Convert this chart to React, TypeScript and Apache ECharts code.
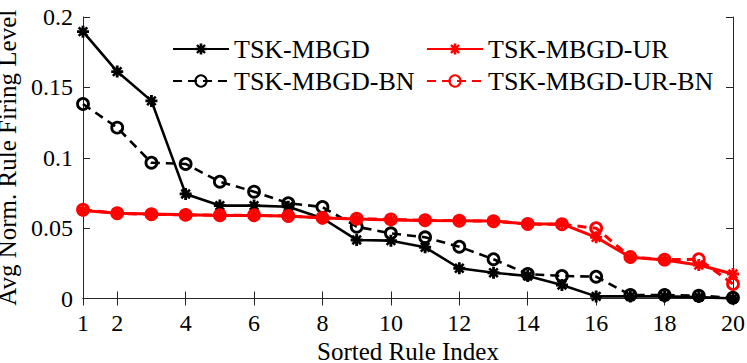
import React, { useEffect, useRef } from "react";
import * as echarts from "echarts";

const ruleIndex = [1, 2, 3, 4, 5, 6, 7, 8, 9, 10, 11, 12, 13, 14, 15, 16, 17, 18, 19, 20];
const xTickValues = [1, 2, 4, 6, 8, 10, 12, 14, 16, 18, 20];

const mbgd = [0.1896, 0.1612, 0.1404, 0.0743, 0.066, 0.066, 0.0652, 0.057, 0.0416, 0.0411, 0.0364, 0.0215, 0.0183, 0.016, 0.0096, 0.0015, 0.0015, 0.0015, 0.001, 0.0];
const mbgdBN = [0.1382, 0.1214, 0.0965, 0.0956, 0.083, 0.0759, 0.0677, 0.065, 0.051, 0.0463, 0.0435, 0.0368, 0.0279, 0.0174, 0.016, 0.0155, 0.0025, 0.0025, 0.002, 0.0005];
const mbgdUR = [0.0625, 0.0605, 0.06, 0.0595, 0.059, 0.059, 0.0587, 0.0572, 0.0565, 0.0558, 0.0555, 0.0553, 0.0551, 0.053, 0.053, 0.0435, 0.0293, 0.0274, 0.0238, 0.0174];
const mbgdURBN = [0.063, 0.0605, 0.0598, 0.0594, 0.0592, 0.0591, 0.0586, 0.0573, 0.0567, 0.0562, 0.0556, 0.0553, 0.0549, 0.0529, 0.0527, 0.0499, 0.0295, 0.0276, 0.0279, 0.0103];

const seriesNames = ["TSK-MBGD", "TSK-MBGD-BN", "TSK-MBGD-UR", "TSK-MBGD-UR-BN"];

const ASTERISK =
  "path://M0,7.6L20,7.6L20,12.4L0,12.4Z" +
  "M12.4,0L12.4,20L7.6,20L7.6,0Z" +
  "M4.343,1.3L18.7,15.657L15.657,18.7L1.3,4.343Z" +
  "M18.7,4.343L4.343,18.7L1.3,15.657L15.657,1.3Z";

const FONT = "Liberation Serif";
const AXIS_COLOR = "#262626";

function pairs(vals: number[]) {
  return ruleIndex.map((x, i) => [x, vals[i]]);
}

export default function App() {
  const ref = useRef<HTMLDivElement>(null);
  useEffect(() => {
    if (!ref.current) return;
    const chart = echarts.init(ref.current, null, { renderer: "svg" });
    const xAxisBase = {
      type: "value",
      min: 1,
      max: 20,
      axisLine: { show: true, lineStyle: { color: AXIS_COLOR, width: 1 } },
      axisTick: { show: true, inside: true, length: 7, customValues: xTickValues, lineStyle: { color: AXIS_COLOR } },
      splitLine: { show: false },
    };
    const yAxisBase = {
      type: "value",
      min: 0,
      max: 0.2,
      interval: 0.05,
      axisLine: { show: true, lineStyle: { color: AXIS_COLOR, width: 1 } },
      axisTick: { show: true, inside: true, length: 7, lineStyle: { color: AXIS_COLOR } },
      splitLine: { show: false },
    };
    const solidLine = (color: string, width: number) => ({ color, width, type: "solid" });
    const dashedLine = (color: string, width: number) => ({ color, width, type: [9, 6] });
    chart.setOption({
      animation: false,
      backgroundColor: "#ffffff",
      textStyle: { fontFamily: FONT },
      grid: { left: 83, right: 14, top: 17, bottom: 64.5, containLabel: false, outerBoundsMode: "none" },
      xAxis: [
        {
          ...xAxisBase,
          position: "bottom",
          name: "Sorted Rule Index",
          nameLocation: "middle",
          nameGap: 35,
          nameTextStyle: { fontFamily: FONT, fontSize: 25, color: "#000" },
          axisLabel: { show: true, customValues: xTickValues, fontFamily: FONT, fontSize: 24, color: "#000", margin: 12 },
        },
        {
          ...xAxisBase,
          position: "top",
          axisLabel: { show: false },
        },
      ],
      yAxis: [
        {
          ...yAxisBase,
          position: "left",
          name: "Avg Norm. Rule Firing Level",
          nameLocation: "middle",
          nameGap: 50,
          nameTextStyle: { fontFamily: FONT, fontSize: 25, color: "#000" },
          axisLabel: { show: true, fontFamily: FONT, fontSize: 24, color: "#000", margin: 10 },
        },
        {
          ...yAxisBase,
          position: "right",
          axisLabel: { show: false },
        },
      ],
      legend: [
        {
          data: [seriesNames[0], seriesNames[1]],
          orient: "vertical",
          left: 172,
          top: 36,
          itemWidth: 56,
          itemHeight: 14,
          itemGap: 6,
          textStyle: { fontFamily: FONT, fontSize: 26, color: "#000" },
          padding: 0,
        },
        {
          data: [seriesNames[2], seriesNames[3]],
          orient: "vertical",
          left: 426,
          top: 36,
          itemWidth: 56,
          itemHeight: 14,
          itemGap: 6,
          textStyle: { fontFamily: FONT, fontSize: 26, color: "#000" },
          padding: 0,
        },
      ],
      series: [
        {
          name: seriesNames[0],
          type: "line",
          data: pairs(mbgd),
          xAxisIndex: 0,
          yAxisIndex: 0,
          symbol: ASTERISK,
          symbolSize: 12,
          lineStyle: solidLine("#000000", 2.6),
          itemStyle: { color: "#000000" },
          z: 2,
        },
        {
          name: seriesNames[1],
          type: "line",
          data: pairs(mbgdBN),
          xAxisIndex: 0,
          yAxisIndex: 0,
          symbol: "circle",
          symbolSize: 11,
          lineStyle: dashedLine("#000000", 2.6),
          itemStyle: { color: "rgba(0,0,0,0)", borderColor: "#000000", borderWidth: 2.8 },
          z: 3,
        },
        {
          name: seriesNames[2],
          type: "line",
          data: pairs(mbgdUR),
          xAxisIndex: 0,
          yAxisIndex: 0,
          symbol: ASTERISK,
          symbolSize: 12,
          lineStyle: solidLine("#ff0000", 3),
          itemStyle: { color: "#ff0000" },
          z: 4,
        },
        {
          name: seriesNames[3],
          type: "line",
          data: pairs(mbgdURBN),
          xAxisIndex: 0,
          yAxisIndex: 0,
          symbol: "circle",
          symbolSize: 11,
          lineStyle: dashedLine("#ff0000", 3),
          itemStyle: { color: "rgba(0,0,0,0)", borderColor: "#ff0000", borderWidth: 2.8 },
          z: 5,
        },
      ],
    });
    return () => chart.dispose();
  }, []);
  return (
    <div
      ref={ref}
      style={{ position: "absolute", left: 0, top: 0, width: 747, height: 363, background: "#fff" }}
    />
  );
}
